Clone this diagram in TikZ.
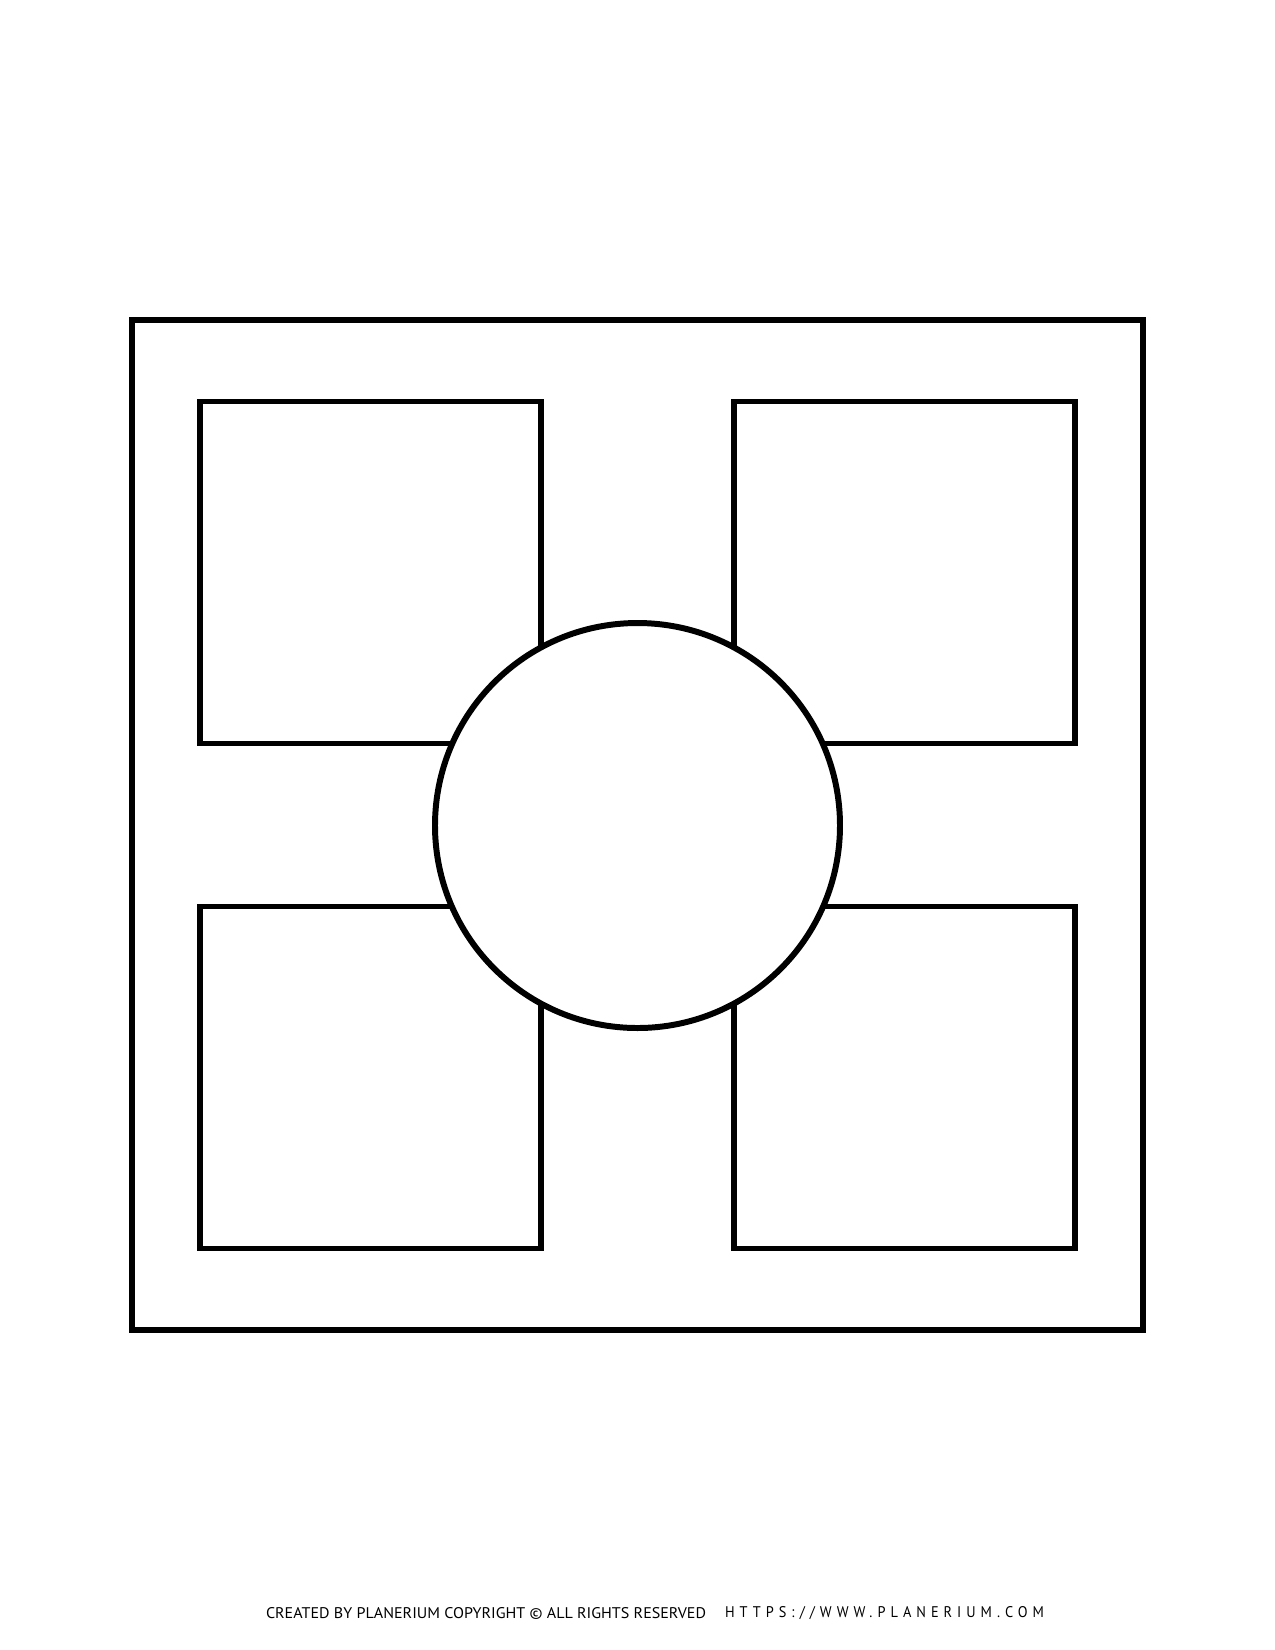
\documentclass[tikz,border=0pt]{standalone}
\usepackage{fontspec}
\setsansfont{PT Sans}
\usepackage{graphicx}
\begin{document}
\begin{tikzpicture}[
        frame/.style={draw, line width=1.45pt, rectangle, inner sep=0pt},
        panel/.style={frame, minimum width=3.41cm, minimum height=3.42cm},
        hub/.style={draw, line width=1.7pt, circle, fill=white, minimum size=4.05cm, inner sep=0pt},
        credit/.style={inner sep=0pt, font=\sffamily}
    ]
        \useasboundingbox (0, 0) rectangle (12.75, -16.5);

        \node[frame, minimum width=10.11cm, minimum height=10.10cm] (outer) at (6.375, -8.25) {};

        \node[panel] (tl) at (3.705, -5.725) {};
        \node[panel] (tr) at (9.045, -5.725) {};
        \node[panel] (bl) at (3.705, -10.775) {};
        \node[panel] (br) at (9.045, -10.775) {};

        \node[hub] (centre) at (6.375, -8.255) {};

        \node[credit] (made) at (4.86, -16.13)
            {\resizebox{4.40cm}{0.11cm}{CREATED BY PLANERIUM COPYRIGHT \textcopyright{} ALL RIGHTS RESERVED}};
        \node[credit] (site) at (8.845, -16.13)
            {\resizebox{3.19cm}{0.11cm}{\addfontfeature{LetterSpace=35}HTTPS://WWW.PLANERIUM.COM}};
    \end{tikzpicture}
\end{document}
